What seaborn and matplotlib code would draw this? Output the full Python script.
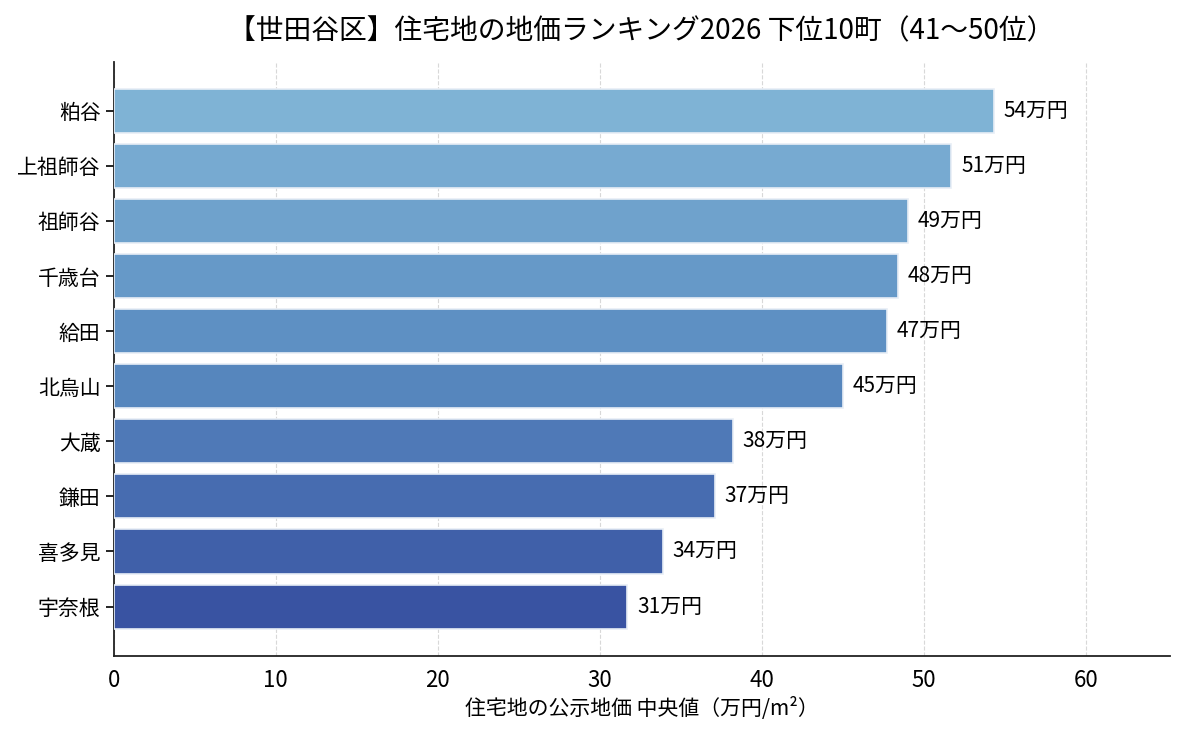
import pandas as pd
import matplotlib
matplotlib.use("Agg")
import matplotlib.pyplot as plt
import seaborn as sns

# Data (万円/m²)
towns = ["粕谷", "上祖師谷", "祖師谷", "千歳台", "給田", "北烏山", "大蔵", "鎌田", "喜多見", "宇奈根"]
prices = [54.3, 51.7, 49.0, 48.4, 47.7, 45.0, 38.2, 37.1, 33.9, 31.7]
price_labels = ["54万円", "51万円", "49万円", "48万円", "47万円", "45万円", "38万円", "37万円", "34万円", "31万円"]

df = pd.DataFrame({"town": towns, "price": prices})

sns.set_style("white")
plt.rcParams["font.family"] = ["Noto Sans CJK JP", "DejaVu Sans"]
plt.rcParams["text.color"] = "black"
plt.rcParams["xtick.color"] = "black"
plt.rcParams["ytick.color"] = "black"
plt.rcParams["axes.labelcolor"] = "black"

fig, ax = plt.subplots(figsize=(11.85, 7.35), dpi=100)

# light blue -> deep blue gradient, top to bottom
colors = sns.blend_palette(["#7fb3d5", "#5a8cc1", "#3953a2"], len(towns))
sns.barplot(data=df, x="price", y="town", hue="town", palette=colors,
            legend=False, width=0.8, edgecolor="#e8eef6", linewidth=1.2,
            saturation=1, ax=ax, zorder=3)

# value labels next to each bar
for i, (v, lab) in enumerate(zip(prices, price_labels)):
    ax.text(v + 0.6, i, lab, va="center", ha="left", fontsize=15, color="black")

ax.set_xlim(0, max(prices) * 1.2)
ax.set_ylim(len(towns) - 0.5 + 0.39, -0.89)
ax.set_xticks(range(0, 70, 10))
ax.grid(axis="x", linestyle="--", color="#c8c8c8", alpha=0.7, zorder=0)
ax.set_axisbelow(True)
sns.despine(ax=ax)
ax.tick_params(axis="x", labelsize=16, length=6, width=1.2)
ax.tick_params(axis="y", labelsize=15, length=6, width=1.2, left=True)
for s in ["left", "bottom"]:
    ax.spines[s].set_linewidth(1.3)
    ax.spines[s].set_color("#222222")
ax.set_ylabel("")
ax.set_xlabel("住宅地の公示地価 中央値（万円/m²）", fontsize=15, labelpad=4)
ax.set_title("【世田谷区】住宅地の地価ランキング2026 下位10町（41～50位）", fontsize=20, pad=16)

plt.subplots_adjust(left=0.096, right=0.987, top=0.916, bottom=0.108)
plt.savefig("out.png", dpi=100)
